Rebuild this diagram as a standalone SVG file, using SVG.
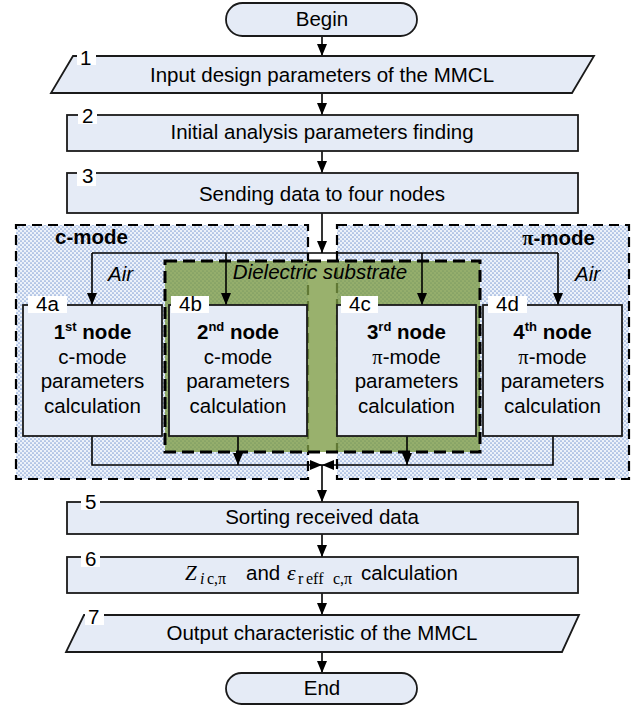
<svg xmlns="http://www.w3.org/2000/svg" width="641" height="707" viewBox="0 0 641 707">
<defs>
<pattern id="dots" width="4" height="4" patternUnits="userSpaceOnUse">
<rect width="4" height="4" fill="#EDF2FA"/>
<circle cx="1" cy="1" r="0.85" fill="#86A3D6"/>
<circle cx="3" cy="3" r="0.85" fill="#86A3D6"/>
</pattern>
<marker id="arr" viewBox="0 0 12 10" refX="12" refY="5" markerWidth="12" markerHeight="10" markerUnits="userSpaceOnUse" orient="auto">
<path d="M0,0 L12,5 L0,10 z" fill="#000"/>
</marker>
</defs>
<style>
.box{fill:#E5EBF6;stroke:#1a1a1a;stroke-width:1.8}
.t{font-family:"Liberation Sans",Arial,sans-serif;font-size:20.5px;fill:#000}
.m{font-family:"Liberation Serif","Times New Roman",serif}
.c{text-anchor:middle}
.e{text-anchor:end}
.b{font-weight:bold}
.i{font-style:italic}
.ln{fill:none;stroke:#000;stroke-width:1.6}
.a{marker-end:url(#arr)}
.grp{fill:url(#dots);stroke:#000;stroke-width:2.2;stroke-dasharray:10 6}
.lab{fill:#fff}
</style>
<rect width="641" height="707" fill="#fff"/>

<g id="group-cmode">
<rect class="grp" x="16" y="225" width="292" height="254"/>
<text class="t b" x="55" y="244">c-mode</text>
<text class="t i" x="108" y="281">Air</text>
</g>
<g id="group-pimode">
<rect class="grp" x="337" y="225" width="292" height="254"/>
<text class="t b e" x="595" y="245"><tspan class="m">π</tspan>-mode</text>
<text class="t i" x="575" y="281">Air</text>
</g>
<g id="group-dielectric">
<rect x="165" y="261" width="315" height="191" fill="#7C9B44" fill-opacity="0.78" stroke="#000" stroke-width="3" stroke-dasharray="12 6"/>
<text class="t i c" x="320" y="279">Dielectric substrate</text>
</g>

<g id="connectors">
<path class="ln a" d="M322,36 V56"/>
<path class="ln a" d="M322,93 V115"/>
<path class="ln a" d="M322,151 V173"/>
<path class="ln a" d="M322,213 V253"/>
<path class="ln" d="M92,253 H558"/>
<path class="ln a" d="M92,253 V305"/>
<path class="ln a" d="M226,253 V305"/>
<path class="ln a" d="M422,253 V305"/>
<path class="ln a" d="M558,253 V305"/>
<path class="ln a" d="M92,436 V465 H322"/>
<path class="ln a" d="M238,436 V465"/>
<path class="ln a" d="M407,436 V465"/>
<path class="ln a" d="M553,436 V465 H322"/>
<path class="ln a" d="M322,465 V502"/>
<path class="ln a" d="M322,534 V557"/>
<path class="ln a" d="M322,593 V615"/>
<path class="ln a" d="M322,652 V673"/>
</g>

<g id="begin">
<rect class="box" x="226" y="3" width="191" height="33" rx="16.5"/>
<text class="t c" x="322" y="26">Begin</text>
</g>
<g id="step1">
<polygon class="box" points="73,56 594,56 572,93 51,93"/>
<rect class="lab" x="77" y="50" width="19" height="15"/>
<text class="t" x="80" y="65">1</text>
<text class="t c" x="322" y="82">Input design parameters of the MMCL</text>
</g>
<g id="step2">
<rect class="box" x="67" y="115" width="511" height="36"/>
<rect class="lab" x="78" y="109" width="19" height="15"/>
<text class="t" x="82" y="123">2</text>
<text class="t c" x="322" y="139">Initial analysis parameters finding</text>
</g>
<g id="step3">
<rect class="box" x="67" y="173" width="511" height="40"/>
<rect class="lab" x="77" y="167" width="19" height="19"/>
<text class="t" x="82" y="183">3</text>
<text class="t c" x="322" y="201">Sending data to four nodes</text>
</g>

<g id="node4a">
<rect class="box" x="23" y="305" width="139" height="131"/>
<rect class="lab" x="28" y="296" width="39" height="17"/>
<text class="t" x="36" y="311">4a</text>
<text class="t c" x="92.5" y="339"><tspan class="b">1<tspan font-size="13" dy="-8">st</tspan><tspan dy="8"> node</tspan></tspan></text>
<text class="t c" x="92.5" y="364">c-mode</text>
<text class="t c" x="92.5" y="388">parameters</text>
<text class="t c" x="92.5" y="413">calculation</text>
</g>
<g id="node4b">
<rect class="box" x="169" y="305" width="138" height="131"/>
<rect class="lab" x="171" y="296" width="38" height="17"/>
<text class="t" x="179" y="311">4b</text>
<text class="t c" x="238" y="339"><tspan class="b">2<tspan font-size="13" dy="-8">nd</tspan><tspan dy="8"> node</tspan></tspan></text>
<text class="t c" x="238" y="364">c-mode</text>
<text class="t c" x="238" y="388">parameters</text>
<text class="t c" x="238" y="413">calculation</text>
</g>
<g id="node4c">
<rect class="box" x="337" y="305" width="139" height="131"/>
<rect class="lab" x="341" y="296" width="37" height="17"/>
<text class="t" x="349" y="311">4c</text>
<text class="t c" x="406.5" y="339"><tspan class="b">3<tspan font-size="13" dy="-8">rd</tspan><tspan dy="8"> node</tspan></tspan></text>
<text class="t c" x="406.5" y="364"><tspan class="m">π</tspan>-mode</text>
<text class="t c" x="406.5" y="388">parameters</text>
<text class="t c" x="406.5" y="413">calculation</text>
</g>
<g id="node4d">
<rect class="box" x="483" y="305" width="139" height="131"/>
<rect class="lab" x="488" y="296" width="39" height="17"/>
<text class="t" x="496" y="311">4d</text>
<text class="t c" x="552.5" y="339"><tspan class="b">4<tspan font-size="13" dy="-8">th</tspan><tspan dy="8"> node</tspan></tspan></text>
<text class="t c" x="552.5" y="364"><tspan class="m">π</tspan>-mode</text>
<text class="t c" x="552.5" y="388">parameters</text>
<text class="t c" x="552.5" y="413">calculation</text>
</g>

<g id="step5">
<rect class="box" x="67" y="502" width="511" height="32"/>
<rect class="lab" x="81" y="496" width="19" height="14"/>
<text class="t" x="85" y="509">5</text>
<text class="t c" x="322" y="524">Sorting received data</text>
</g>
<g id="step6">
<rect class="box" x="67" y="557" width="511" height="36"/>
<rect class="lab" x="81" y="551" width="19" height="16"/>
<text class="t" x="85" y="566">6</text>
<text class="m i" x="185" y="580" font-size="21">Z</text>
<text class="m i" x="200" y="584" font-size="16">i</text>
<text class="m" x="207" y="584" font-size="16">c,π</text>
<text class="t" x="246" y="580">and</text>
<text class="m i" x="287" y="580" font-size="22">ε</text>
<text class="m" x="298" y="584" font-size="16">r</text>
<text class="m" x="306" y="584" font-size="16">eff</text>
<text class="m" x="333" y="584" font-size="16">c,π</text>
<text class="t" x="361" y="580">calculation</text>
</g>
<g id="step7">
<polygon class="box" points="84,615 579,615 562,652 66,652"/>
<rect class="lab" x="85" y="609" width="19" height="16"/>
<text class="t" x="88" y="624">7</text>
<text class="t c" x="322" y="640">Output characteristic of the MMCL</text>
</g>
<g id="end">
<rect class="box" x="226" y="673" width="191" height="31" rx="15.5"/>
<text class="t c" x="322" y="695">End</text>
</g>
</svg>
